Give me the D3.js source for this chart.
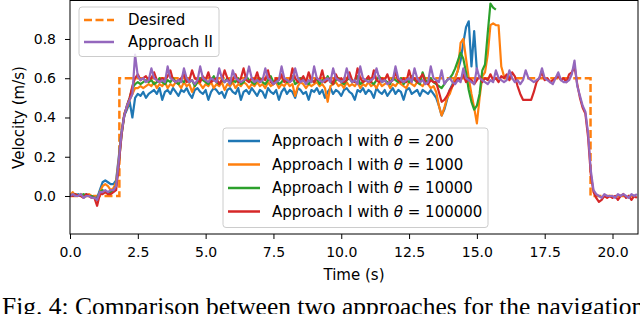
<!DOCTYPE html>
<html>
<head>
<meta charset="utf-8">
<script src="https://cdn.jsdelivr.net/npm/d3@7"></script>
<style>
	body { margin: 0; background: #fff; }
	svg { display: block; }
	text { font-family: 'DejaVu Sans', sans-serif; fill: #000; }
</style>
</head>
<body>
<svg id="chart" width="640" height="314"></svg>
<script>

/**
 */
var sampleStep = 0.1;

var blueVel = [
	.01, 0, 0, .01, 0, 0, .01, 0, 0, -.01,
	-.01, .03, .07, .08, .07, .06, .06, .08, .20, .33,
	.41, .44, .48, .40, .50, .52, .51, .53, .50, .52,
	.53, .54, .52, .55, .49, .53, .54, .52, .55, .53,
	.51, .54, .53, .55, .52, .50, .54, .55, .53, .52,
	.54, .49, .53, .55, .54, .52, .53, .50, .54, .55,
	.53, .52, .55, .49, .53, .54, .52, .55, .53, .51,
	.54, .53, .50, .55, .53, .52, .54, .49, .53, .55,
	.52, .54, .53, .50, .55, .54, .52, .53, .49, .54,
	.53, .55, .52, .54, .50, .53, .55, .52, .54, .53,
	.51, .54, .55, .53, .52, .49, .54, .53, .55, .52,
	.54, .53, .50, .55, .53, .52, .54, .51, .53, .55,
	.52, .54, .53, .49, .54, .55, .52, .53, .54, .51,
	.54, .53, .52, .54, .52, .50, .46, .41, .44, .49,
	.54, .57, .60, .64, .69, .78, .86, .89, .66, .84,
	.64
];

var orangeVel = [
	0, .02, 0, 0, .01, 0, 0, .01, 0, -.01,
	-.02, .02, .05, .06, .05, .03, .04, .07, .19, .32,
	.42, .45, .49, .52, .55, .55, .56, .55, .56, .57,
	.56, .58, .55, .57, .56, .58, .55, .57, .56, .58,
	.57, .55, .58, .56, .57, .53, .56, .58, .57, .55,
	.57, .56, .58, .55, .57, .56, .58, .54, .57, .56,
	.58, .55, .57, .56, .58, .57, .55, .57, .56, .58,
	.56, .57, .55, .58, .56, .57, .58, .55, .57, .56,
	.58, .56, .57, .51, .56, .58, .57, .55, .57, .56,
	.57, .58, .56, .57, .55, .48, .56, .57, .58, .56,
	.57, .55, .58, .56, .57, .56, .58, .55, .57, .56,
	.58, .56, .57, .55, .58, .56, .57, .58, .55, .57,
	.56, .58, .57, .56, .55, .58, .57, .56, .58, .57,
	.56, .58, .57, .55, .56, .53, .46, .41, .45, .50,
	.52, .56, .60, .64, .78, .80, .70, .60, .52, .45,
	.37, .50, .61, .63, .72, .87, .88, .87, .87, .66,
	.61, .60, .61, .60
];

var greenVel = [
	0, 0, .01, 0, 0, .01, 0, 0, 0, -.01,
	-.02, .02, .03, .02, .02, .02, .03, .05, .17, .31,
	.41, .46, .50, .55, .57, .58, .57, .58, .59, .58,
	.59, .57, .58, .60, .58, .57, .59, .58, .60, .58,
	.57, .59, .58, .60, .58, .59, .56, .58, .60, .59,
	.58, .57, .59, .61, .58, .57, .59, .58, .60, .57,
	.59, .58, .60, .57, .58, .61, .59, .58, .57, .59,
	.60, .58, .57, .59, .61, .58, .59, .57, .58, .60,
	.58, .59, .61, .57, .58, .60, .59, .58, .57, .59,
	.58, .60, .57, .59, .58, .61, .58, .57, .59, .60,
	.58, .57, .59, .60, .58, .59, .61, .57, .58, .59,
	.60, .58, .57, .59, .61, .58, .59, .58, .57, .60,
	.59, .58, .60, .57, .59, .58, .61, .59, .58, .57,
	.63, .59, .58, .60, .58, .57, .56, .55, .57, .59,
	.60, .62, .65, .69, .73, .70, .63, .54, .48, .44,
	.46, .52, .64, .67, .83, .98, .96, .95
];

var redVel = [
	0, 0, .01, 0, 0, -.01, .01, 0, -.01, -.01,
	-.05, .01, .01, .02, .01, .01, .02, .03, .16, .31,
	.41, .46, .50, .56, .60, .62, .59, .60, .61, .59,
	.60, .63, .59, .58, .60, .59, .61, .64, .59, .58,
	.59, .60, .62, .58, .59, .64, .60, .59, .58, .61,
	.59, .63, .58, .59, .60, .57, .59, .64, .60, .58,
	.59, .62, .58, .60, .65, .59, .58, .60, .59, .63,
	.58, .60, .59, .64, .58, .57, .60, .59, .62, .58,
	.59, .58, .65, .60, .58, .59, .61, .58, .63, .59,
	.58, .60, .59, .64, .58, .59, .60, .57, .62, .59,
	.60, .58, .59, .63, .59, .58, .65, .60, .58, .59,
	.61, .58, .64, .59, .58, .60, .59, .62, .58, .59,
	.63, .59, .58, .60, .58, .64, .59, .60, .58, .60,
	.62, .58, .57, .59, .58, .58, .53, .48, .49, .51,
	.54, .56, .58, .60, .59, .62, .58, .60, .59, .57,
	.59, .61, .58, .60, .59, .62, .59, .60, .58, .61,
	.60, .62, .59, .63, .61, .56, .52, .49, .49, .49,
	.49, .53, .58, .60, .63, .59, .60, .58, .59, .60,
	.61, .59, .60, .58, .62, .63, .66, .57, .50, .45,
	.42, .30, .11, .02, -.01, -.03, -.02, 0, -.01, 0,
	-.01, 0, -.02, 0, .01, -.01, 0, -.02, 0, -.01
];

var purpleVel = [
	0, .01, 0, 0, .01, -.01, 0, 0, -.01, -.01,
	-.02, .02, .02, .03, .02, .03, .03, .05, .18, .32,
	.41, .46, .49, .52, .72, .61, .59, .60, .58, .59,
	.65, .60, .59, .58, .59, .58, .66, .60, .59, .58,
	.59, .58, .65, .60, .58, .59, .57, .59, .66, .60,
	.59, .58, .60, .59, .58, .65, .60, .58, .59, .57,
	.64, .60, .59, .58, .59, .60, .66, .60, .58, .59,
	.58, .59, .65, .60, .59, .57, .58, .59, .66, .60,
	.59, .58, .59, .65, .60, .58, .59, .57, .59, .58,
	.66, .60, .59, .58, .59, .60, .58, .65, .60, .59,
	.58, .59, .65, .60, .58, .59, .57, .66, .60, .59,
	.58, .59, .60, .65, .60, .58, .59, .57, .58, .59,
	.66, .60, .59, .58, .59, .60, .58, .65, .60, .58,
	.59, .57, .58, .66, .60, .59, .58, .64, .57, .59,
	.60, .58, .57, .59, .58, .65, .60, .59, .58, .57,
	.65, .60, .59, .58, .57, .59, .58, .64, .60, .59,
	.58, .59, .64, .60, .58, .59, .57, .59, .64, .60,
	.59, .58, .59, .60, .65, .60, .59, .58, .57, .60,
	.63, .59, .58, .58, .59, .62, .69, .56, .51, .46,
	.43, .32, .13, .03, .01, 0, -.01, .01, 0, 0,
	0, -.01, .01, 0, .01, 0, -.01, .01, 0, .01
];

var desiredTime = [0, 1.82, 1.82, 19.19, 19.19, 20.94];
var desiredVel = [0, 0, 0.6, 0.6, 0, 0];

var xTicks = [0, 2.5, 5, 7.5, 10, 12.5, 15, 17.5, 20];
var yTicks = [0, 0.2, 0.4, 0.6, 0.8];

var thetaValues = ['200', '1000', '10000', '100000'];
var caption = 'Fig. 4: Comparison between two approaches for the navigation';

/**
 * Chart setup
 */
var svg = d3.select('#chart');

var plot = {left: 70, right: 638, top: 0.5, bottom: 234};

var x = d3.scaleLinear().domain([0, 20.94]).range([plot.left, plot.right]);
var y = d3.scaleLinear().domain([-0.1936, 0.996]).range([plot.bottom, plot.top]);

svg.append('clipPath').attr('id', 'plotClip')
	.append('rect')
		.attr('x', plot.left)
		.attr('y', plot.top)
		.attr('width', plot.right - plot.left)
		.attr('height', plot.bottom - plot.top);

var toPoints = function(values) {
	return values.map(function(v, i) { return [i * sampleStep, v]; });
}

var line = d3.line()
	.x(function(d) { return x(d[0]); })
	.y(function(d) { return y(d[1]); });

var series = [
	{values: blueVel, color: '#1f77b4'},
	{values: orangeVel, color: '#ff7f0e'},
	{values: greenVel, color: '#2ca02c'},
	{values: redVel, color: '#d62728'},
	{values: purpleVel, color: '#9467bd'}
];

var lines = svg.append('g').attr('clip-path', 'url(#plotClip)');

/**
 * Desired velocity (dashed)
 */
lines.append('path')
	.attr('d', line(desiredTime.map(function(t, i) { return [t, desiredVel[i]]; })))
	.attr('fill', 'none')
	.attr('stroke', '#ff7f0e')
	.attr('stroke-width', 2.5)
	.attr('stroke-dasharray', '8,3.5');

series.forEach(function(s) {
	lines.append('path')
		.attr('d', line(toPoints(s.values)))
		.attr('fill', 'none')
		.attr('stroke', s.color)
		.attr('stroke-width', 2.2)
		.attr('stroke-linejoin', 'round');
});

/**
 * Axes
 */
var xAxis = svg.append('g')
	.attr('transform', 'translate(0,' + plot.bottom + ')')
	.call(d3.axisBottom(x).tickValues(xTicks).tickFormat(d3.format('.1f')).tickSize(5).tickPadding(8));

var yAxis = svg.append('g')
	.attr('transform', 'translate(' + plot.left + ',0)')
	.call(d3.axisLeft(y).tickValues(yTicks).tickFormat(d3.format('.1f')).tickSize(5).tickPadding(9));

[xAxis, yAxis].forEach(function(a) {
	a.select('.domain').remove();
	a.attr('font-size', 14).attr('font-family', 'DejaVu Sans');
	a.selectAll('line').attr('stroke', '#000');
	a.selectAll('text').attr('fill', '#000');
});

svg.append('rect')
	.attr('x', plot.left)
	.attr('y', plot.top)
	.attr('width', plot.right - plot.left)
	.attr('height', plot.bottom - plot.top)
	.attr('fill', 'none')
	.attr('stroke', '#000')
	.attr('stroke-width', 1);

svg.append('text')
	.attr('x', (plot.left + plot.right) / 2)
	.attr('y', 280)
	.attr('text-anchor', 'middle')
	.attr('font-size', 15)
	.text('Time (s)');

svg.append('text')
	.attr('transform', 'translate(24,' + y(0.4) + ') rotate(-90)')
	.attr('text-anchor', 'middle')
	.attr('font-size', 15)
	.text('Velocity (m/s)');

/**
 * Legends
 */
var legendBox = function(bx, by, bw, bh) {
	svg.append('rect')
		.attr('x', bx).attr('y', by)
		.attr('width', bw).attr('height', bh)
		.attr('rx', 3)
		.attr('fill', 'rgba(255,255,255,0.8)')
		.attr('stroke', '#cccccc')
		.attr('stroke-width', 1);
}

legendBox(79, 7, 140, 49.5);

var topEntries = [
	{label: 'Desired', color: '#ff7f0e', dash: '8,3.5'},
	{label: 'Approach II', color: '#9467bd', dash: null}
];

topEntries.forEach(function(e, i) {
	var ly = 20 + i * 22;
	svg.append('line')
		.attr('x1', 84).attr('x2', 114)
		.attr('y1', ly).attr('y2', ly)
		.attr('stroke', e.color)
		.attr('stroke-width', 2.5)
		.attr('stroke-dasharray', e.dash);
	svg.append('text')
		.attr('x', 128).attr('y', ly)
		.attr('dy', '0.36em')
		.attr('font-size', 15)
		.text(e.label);
});

legendBox(223, 128, 265, 99.5);

thetaValues.forEach(function(v, i) {
	var ly = 141 + i * 23.5;
	svg.append('line')
		.attr('x1', 228).attr('x2', 260)
		.attr('y1', ly).attr('y2', ly)
		.attr('stroke', series[i].color)
		.attr('stroke-width', 2.5);
	var t = svg.append('text')
		.attr('x', 272).attr('y', ly)
		.attr('dy', '0.36em')
		.attr('font-size', 15);
	t.append('tspan').text('Approach I with ');
	t.append('tspan').attr('font-style', 'italic').text('\u03b8');
	t.append('tspan').text(' = ' + v);
});

/**
 * Figure caption (cut off at the bottom of the picture)
 */
svg.append('text')
	.attr('x', 2)
	.attr('y', 314.5)
	.attr('font-family', 'Liberation Serif')
	.style('font-family', 'Liberation Serif')
	.attr('font-size', 25.5)
	.text(caption);

</script>
</body>
</html>
